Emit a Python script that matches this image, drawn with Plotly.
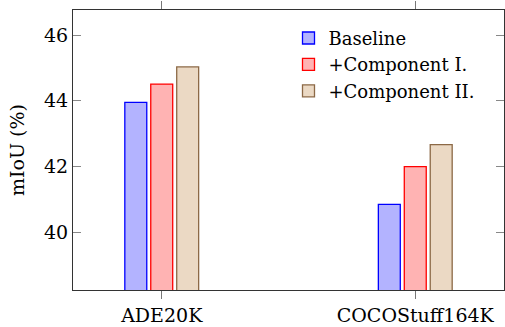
import plotly.graph_objects as go

categories = ["ADE20K", "COCOStuff164K"]
series_names = ["Baseline", "+Component I.", "+Component II."]
baseline = [43.95, 40.85]
comp1 = [44.51, 42.0]
comp2 = [45.03, 42.67]
y_ticks = [40, 42, 44, 46]

fills = ["rgb(179,179,255)", "rgb(255,179,179)", "rgb(235,217,196)"]
lines = ["rgb(0,0,255)", "rgb(255,0,0)", "rgb(140,105,70)"]

fig = go.Figure()
for name, vals, fc, lc in zip(series_names, [baseline, comp1, comp2], fills, lines):
    fig.add_trace(go.Bar(
        x=categories, y=vals, name=name,
        marker=dict(color=fc, line=dict(color=lc, width=1.3)),
        base=0,
    ))

font = "DejaVu Serif"
fig.update_layout(
    width=505, height=327,
    margin=dict(l=73, r=1, t=10, b=37, autoexpand=False),
    plot_bgcolor="white", paper_bgcolor="white",
    barmode="group", bargap=0.693, bargroupgap=0.154,
    font=dict(family=font, size=19, color="black"),
    showlegend=True,
    legend=dict(x=0.50, y=0.965, xanchor="left", yanchor="top",
                bgcolor="rgba(0,0,0,0)", font=dict(family=font, size=18),
                itemwidth=30, tracegroupgap=0),
    xaxis=dict(range=[-0.35, 1.35], showline=True, linecolor="#333", linewidth=1,
               mirror="ticks", ticks="outside", ticklen=8, tickcolor="#777",
               tickwidth=1, showgrid=False, tickfont=dict(size=19), automargin=False),
    yaxis=dict(range=[38.25, 46.76], showline=True, linecolor="#333", linewidth=1,
               mirror="ticks", ticks="inside", ticklen=8, tickcolor="#888",
               tickwidth=1, showgrid=False, zeroline=False, automargin=False,
               tickvals=y_ticks, tickfont=dict(size=19),
               title=dict(text="mIoU (%)", font=dict(size=19), standoff=14)),
)
fig.write_html("out.html", config={"displayModeBar": False},
               post_script="document.body.style.margin='0';document.body.style.padding='0';")
